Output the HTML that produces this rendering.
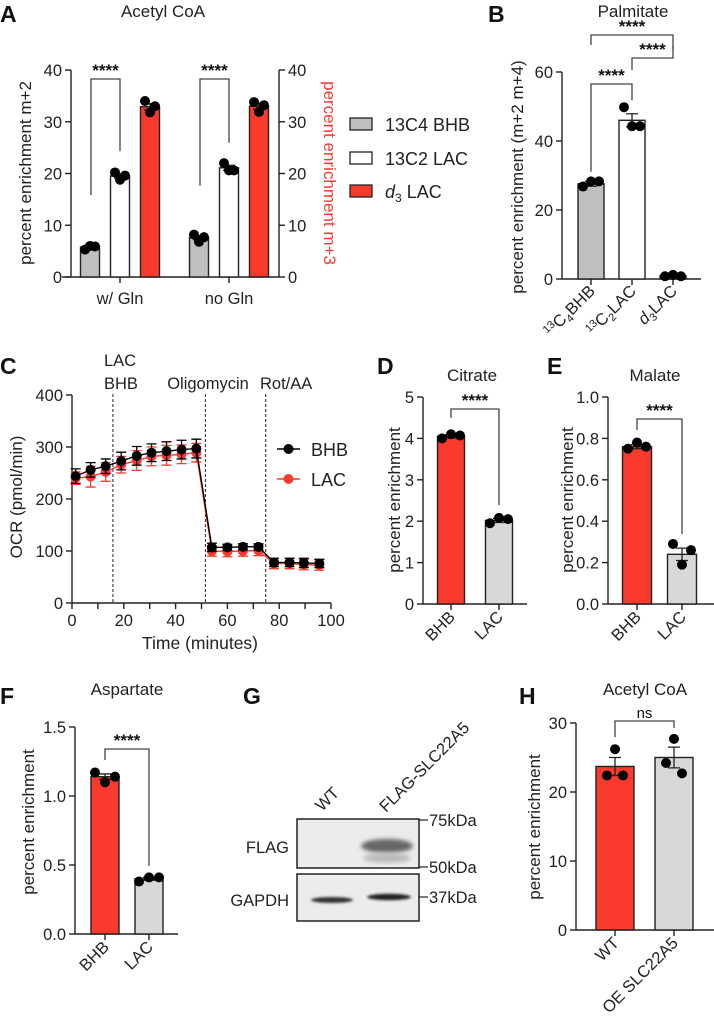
<!DOCTYPE html>
<html><head><meta charset="utf-8"><style>
html,body{margin:0;padding:0;background:#fff;}
svg{display:block;font-family:"Liberation Sans",Arial,sans-serif;}
</style></head><body>
<svg id="fig" width="714" height="1022" viewBox="0 0 714 1022" xmlns="http://www.w3.org/2000/svg">
<defs><filter id="blur" x="-20%" y="-50%" width="140%" height="200%"><feGaussianBlur stdDeviation="2.2"/></filter>
<filter id="blur2" x="-20%" y="-50%" width="140%" height="200%"><feGaussianBlur stdDeviation="1.2"/></filter></defs>
<g font-weight="bold" font-size="23" fill="#111">
<text x="0" y="22">A</text>
<text x="488" y="22">B</text>
<text x="0" y="374">C</text>
<text x="377" y="374">D</text>
<text x="547" y="374">E</text>
<text x="0" y="704">F</text>
<text x="243" y="704">G</text>
<text x="519" y="704">H</text>
</g>
<g id="blot">
<rect x="297" y="819" width="122" height="49" fill="#ececec" stroke="#222" stroke-width="1.5"/>
<ellipse cx="387" cy="846" rx="26" ry="7" fill="#666" filter="url(#blur)"/>
<ellipse cx="387" cy="858" rx="24" ry="5" fill="#bbb" filter="url(#blur)"/>
<rect x="297" y="874" width="122" height="47" fill="#ececec" stroke="#222" stroke-width="1.5"/>
<ellipse cx="332" cy="900" rx="21" ry="3" fill="#333" filter="url(#blur2)"/>
<ellipse cx="389" cy="897" rx="22" ry="3.2" fill="#222" filter="url(#blur2)"/>
<g stroke="#222" stroke-width="1.2"><line x1="419" y1="820" x2="428" y2="820"/><line x1="419" y1="867" x2="428" y2="867"/><line x1="419" y1="897" x2="428" y2="897"/></g>
<g font-size="16.5" fill="#222">
<text x="429" y="826">75kDa</text>
<text x="429" y="873">50kDa</text>
<text x="429" y="903">37kDa</text>
<text x="289" y="853" text-anchor="end">FLAG</text>
<text x="289" y="906" text-anchor="end">GAPDH</text>
<text transform="translate(322,812) rotate(-45)">WT</text>
<text transform="translate(386,813) rotate(-45)">FLAG-SLC22A5</text>
</g>
</g>
</svg>
<script>
// ---------- data ----------
const aCategories = ["w/ Gln", "no Gln"];
const aSeries = ["13C4 BHB", "13C2 LAC", "d3 LAC"];
const aWithGlnPoints = [[5.3, 6.0, 5.9], [20.2, 18.8, 19.6], [34.0, 31.8, 33.0]];
const aNoGlnPoints = [[8.2, 6.8, 7.7], [22.0, 20.6, 20.6], [33.8, 31.9, 33.2]];
const aMeans = [[5.8, 19.5, 32.9], [7.6, 21.1, 33.0]];
const aSem = [[0.3, 0.4, 0.6], [0.4, 0.5, 0.6]];
const aTicks = [0, 10, 20, 30, 40];

const bCategories = ["13C4BHB", "13C2LAC", "d3LAC"];
const bMeans = [27.6, 46.0, 0.9];
const bSem = [0.7, 1.9, 0.15];
const bPoints = [[26.8, 28.3, 28.3], [49.8, 44.3, 44.3], [0.8, 1.2, 0.8]];
const bTicks = [0, 20, 40, 60];

const cTimes = [1.4, 7.2, 13, 19, 25, 30.7, 36.5, 42.3, 48, 54, 60, 66, 72, 78, 84, 89.5, 95.5];
const cBHB = [244, 256, 263, 273, 283, 289, 292, 295, 297, 107, 107, 108, 108, 78, 78, 77, 76];
const cBHBErr = [14, 14, 14, 17, 18, 17, 18, 18, 18, 8, 6, 6, 6, 8, 8, 9, 8];
const cLAC = [240, 243, 252, 266, 274, 282, 284, 286, 289, 100, 99, 100, 101, 76, 76, 74, 73];
const cLACErr = [12, 20, 18, 16, 19, 18, 19, 18, 18, 10, 10, 10, 10, 10, 10, 10, 10];
const cInjections = [15.8, 51.5, 74.8];
const cYTicks = [0, 100, 200, 300, 400];
const cXTicks = [0, 20, 40, 60, 80, 100];

const dCategories = ["BHB", "LAC"];
const dMeans = [4.05, 2.02];
const dSem = [0.04, 0.05];
const dPoints = [[4.0, 4.1, 4.07], [1.95, 2.08, 2.05]];
const dTicks = [0, 1, 2, 3, 4, 5];

const eCategories = ["BHB", "LAC"];
const eMeans = [0.76, 0.24];
const eSem = [0.01, 0.03];
const ePoints = [[0.75, 0.78, 0.76], [0.29, 0.19, 0.26]];
const eTicks = [0.0, 0.2, 0.4, 0.6, 0.8, 1.0];

const fCategories = ["BHB", "LAC"];
const fMeans = [1.14, 0.40];
const fSem = [0.02, 0.01];
const fPoints = [[1.17, 1.10, 1.14], [0.38, 0.41, 0.41]];
const fTicks = [0.0, 0.5, 1.0, 1.5];

const hCategories = ["WT", "OE SLC22A5"];
const hMeans = [23.7, 25.0];
const hSem = [1.3, 1.5];
const hPoints = [[26.2, 22.4, 22.4], [27.7, 24.2, 22.7]];
const hTicks = [0, 10, 20, 30];

// ---------- helpers ----------
const NS = "http://www.w3.org/2000/svg";
const svg = document.getElementById("fig");
function mk(tag, attrs, parent) {
  const e = document.createElementNS(NS, tag);
  for (const k in attrs) e.setAttribute(k, attrs[k]);
  (parent || svg).appendChild(e);
  return e;
}
const RED = "#fb3a2e", GRAY = "#bfbfbf", LGRAY = "#d8d8d8", AX = "#222";
const TICKFS = 16.5, TITLEFS = 17, YTFS = 17;
function scaleY(v, vmax, yTop, yBot) { return yBot - (v / vmax) * (yBot - yTop); }

function drawYAxis(g, x, yTop, yBot, vmax, ticks, fmt, side) {
  const ax = mk("line", {x1: x, y1: yTop, x2: x, y2: yBot, stroke: AX, "stroke-width": 1.4}, g);
  
  
  ticks.forEach(t => {
    const y = scaleY(t, vmax, yTop, yBot);
    const dir = side === "right" ? 1 : -1;
    mk("line", {x1: x, y1: y, x2: x + dir * 6, y2: y, stroke: AX, "stroke-width": 1.4}, g);
    const tx = mk("text", {x: x + dir * 9, y: y + 6, "font-size": TICKFS, fill: AX, "text-anchor": side === "right" ? "start" : "end"}, g);
    tx.textContent = fmt(t);
    
    
  });
}
function yTitle(g, x, y, text, color, rot) {
  const t = mk("text", {transform: `translate(${x},${y}) rotate(${rot || -90})`, "text-anchor": "middle", "font-size": YTFS, fill: color || AX}, g);
  t.textContent = text;
  
  
  return t;
}
function title(x, y, text, name) {
  const t = mk("text", {x: x, y: y, "text-anchor": "middle", "font-size": TITLEFS, fill: AX});
  t.textContent = text;
  
  
}
function bar(g, cx, w, v, sem, pts, vmax, yTop, yBot, fill, offs) {
  const y = scaleY(v, vmax, yTop, yBot);
  const r = mk("rect", {x: cx - w / 2, y: y, width: w, height: yBot - y, fill: fill, stroke: AX, "stroke-width": 1.4}, g);
  
  
  const yh = scaleY(v + sem, vmax, yTop, yBot), yl = scaleY(v - sem, vmax, yTop, yBot);
  const eb = mk("path", {d: `M${cx} ${yh}V${yl}M${cx - 6} ${yh}H${cx + 6}M${cx - 6} ${yl}H${cx + 6}`, stroke: AX, "stroke-width": 1.3, fill: "none"}, g);
  
  
  pts.forEach((p, i) => {
    const c = mk("circle", {cx: cx + offs[i], cy: scaleY(p, vmax, yTop, yBot), r: 5, fill: "#000"}, g);
    
    
  });
}
function bracket(g, x1, x2, y, y1, y2, label, fs) {
  const p = mk("path", {d: `M${x1} ${y1}V${y}H${x2}V${y2}`, stroke: "#444", "stroke-width": 1.3, fill: "none"}, g);
  
  
  const t = mk("text", {x: (x1 + x2) / 2, y: y - 3, "text-anchor": "middle", "font-size": fs || 17, "font-weight": label === "ns" ? "normal" : "bold", fill: "#111"}, g);
  t.textContent = label;
  
  
}
function rotLabel(g, x, y, text) {
  const t = mk("text", {transform: `translate(${x},${y}) rotate(-45)`, "text-anchor": "end", "font-size": 16.5, fill: AX}, g);
  t.textContent = text;
  
  
  return t;
}
function xAxis(g, x1, x2, y, ticks) {
  const l = mk("line", {x1: x1, y1: y, x2: x2, y2: y, stroke: AX, "stroke-width": 1.4}, g);
  
  
  ticks.forEach(t => mk("line", {x1: t, y1: y, x2: t, y2: y + 6, stroke: AX, "stroke-width": 1.4}, g));
}

// ---------- Panel A ----------
(function () {
  const g = mk("g", {});
  
  
  title(163, 17, "Acetyl CoA", "panel-a-title");
  const yTop = 70, yBot = 277, vmax = 40;
  drawYAxis(g, 71, yTop, yBot, vmax, aTicks, String, "left");
  drawYAxis(g, 279, yTop, yBot, vmax, aTicks, String, "right");
  yTitle(g, 31, 173, "percent enrichment m+2");
  yTitle(g, 324, 173, "percent enrichment m+3", RED, 90);
  const groupCenters = [120, 229];
  xAxis(g, 62, 279, yBot, groupCenters);
  const fills = [GRAY, "#fff", RED];
  const allPts = [aWithGlnPoints, aNoGlnPoints];
  groupCenters.forEach((gc, gi) => {
    [-30, 0, 30].forEach((off, si) => {
      bar(g, gc + off, 19, aMeans[gi][si], aSem[gi][si], allPts[gi][si], vmax, yTop, yBot, fills[si], [-5, 0, 5]);
    });
    const t = mk("text", {x: gc, y: 304, "text-anchor": "middle", "font-size": TICKFS, fill: AX}, g);
    t.textContent = aCategories[gi];
    
    
    bracket(g, gc - 29, gc, 79, scaleY(aMeans[gi][0], vmax, yTop, yBot) - 52, scaleY(aMeans[gi][1], vmax, yTop, yBot) - 25, "****");
  });
  const lg = mk("g", {});
  
  
  const ly = [124, 158, 191];
  aSeries.forEach((s, i) => {
    const r = mk("rect", {x: 350, y: ly[i] - 6, width: 22, height: 12, fill: fills[i], stroke: AX, "stroke-width": 1.3}, lg);
    
    
    const t = mk("text", {x: 385, y: ly[i] + 7, "font-size": 18, fill: AX}, lg);
    
    
    if (s === "d3 LAC") {
      t.innerHTML = '<tspan font-style="italic">d</tspan><tspan font-size="12" dy="4">3</tspan><tspan dy="-4"> LAC</tspan>';
    } else t.textContent = s;
  });
})();

// ---------- Panel B ----------
(function () {
  const g = mk("g", {});
  
  
  title(633, 17, "Palmitate", "panel-b-title");
  const yTop = 72, yBot = 279, vmax = 60;
  drawYAxis(g, 562, yTop, yBot, vmax, bTicks, String, "left");
  yTitle(g, 523, 177, "percent enrichment (m+2 m+4)");
  const cx = [591, 632, 673];
  xAxis(g, 562, 701, yBot, cx);
  const fills = [GRAY, "#fff", RED];
  cx.forEach((x, i) => bar(g, x, 26, bMeans[i], bSem[i], bPoints[i], vmax, yTop, yBot, fills[i], [-8, 0, 8]));
  const tops = bMeans.map(v => scaleY(v, vmax, yTop, yBot));
  bracket(g, 591, 632, 84, tops[0] - 12, tops[1] - 20, "****");
  bracket(g, 632, 673, 58, 70, tops[2] - 230, "****");
  bracket(g, 591, 673, 35, 45, 49, "****");
  const labs = [["13", "C", "4", "BHB"], ["13", "C", "2", "LAC"], [null, "d", "3", "LAC"]];
  cx.forEach((x, i) => {
    const t = rotLabel(g, x + 5, 292, "");
    const L = labs[i];
    if (L[0]) t.innerHTML = `<tspan font-size="11" dy="-5">${L[0]}</tspan><tspan dy="5">${L[1]}</tspan><tspan font-size="11" dy="4">${L[2]}</tspan><tspan dy="-4">${L[3]}</tspan>`;
    else t.innerHTML = `<tspan font-style="italic">${L[1]}</tspan><tspan font-size="11" dy="4">${L[2]}</tspan><tspan dy="-4">${L[3]}</tspan>`;
  });
})();

// ---------- Panel C ----------
(function () {
  const g = mk("g", {});
  
  
  const x0 = 72, x1 = 331, yTop = 395, yBot = 603, ymax = 400, xmax = 100;
  const sx = t => x0 + (t / xmax) * (x1 - x0);
  const sy = v => scaleY(v, ymax, yTop, yBot);
  drawYAxis(g, x0, yTop, yBot, ymax, cYTicks, String, "left");
  yTitle(g, 22, 497, "OCR (pmol/min)");
  xAxis(g, x0, x1, yBot, cXTicks.map(sx).concat([10, 30, 50, 70, 90].map(sx)));
  cXTicks.forEach(t => {
    const tx = mk("text", {x: sx(t), y: 626, "text-anchor": "middle", "font-size": TICKFS, fill: AX}, g);
    tx.textContent = String(t);
    
    
  });
  const xt = mk("text", {x: 200, y: 649, "text-anchor": "middle", "font-size": 17.5, fill: AX}, g);
  xt.textContent = "Time (minutes)";
  
  
  cInjections.forEach(t => {
    const l = mk("line", {x1: sx(t), y1: 394, x2: sx(t), y2: yBot, stroke: "#222", "stroke-width": 1, "stroke-dasharray": "3,2"}, g);
    
    
  });
  const inj = [["LAC", 104, 366, "start"], ["BHB", 104, 389, "start"], ["Oligomycin", 208, 389, "middle"], ["Rot/AA", 260, 389, "start"]];
  inj.forEach(a => {
    const t = mk("text", {x: a[1], y: a[2], "font-size": 16.5, fill: AX, "text-anchor": a[3]}, g);
    t.textContent = a[0];
    
    
  });
  function series(vals, errs, color, name) {
    const sg = mk("g", {}, g);
    
    
    let d = "";
    vals.forEach((v, i) => {
      const x = sx(cTimes[i]), yh = sy(v + errs[i]), yl = sy(v - errs[i]);
      mk("path", {d: `M${x} ${yh}V${yl}M${x - 5} ${yh}H${x + 5}M${x - 5} ${yl}H${x + 5}`, stroke: color, "stroke-width": 1.3, fill: "none"}, sg);
      d += (i ? "L" : "M") + x + " " + sy(v);
    });
    mk("path", {d: d, stroke: color, "stroke-width": 1.4, fill: "none"}, sg);
    vals.forEach((v, i) => {
      const c = mk("circle", {cx: sx(cTimes[i]), cy: sy(v), r: 5, fill: color}, sg);
      
      
    });
  }
  series(cLAC, cLACErr, RED, "series-lac");
  series(cBHB, cBHBErr, "#000", "series-bhb");
  const lg = mk("g", {}, g);
  
  
  [["BHB", "#000", 449], ["LAC", RED, 479]].forEach(a => {
    mk("line", {x1: 277, y1: a[2], x2: 300, y2: a[2], stroke: a[1], "stroke-width": 1.4}, lg);
    mk("circle", {cx: 288.5, cy: a[2], r: 5, fill: a[1]}, lg);
    const t = mk("text", {x: 311, y: a[2] + 7, "font-size": 18, fill: AX}, lg);
    t.textContent = a[0];
    
    
  });
})();

// ---------- Two-bar panels ----------
function twoBar(opts) {
  const g = mk("g", {});
  
  
  title(opts.titleX, opts.titleY, opts.title, opts.name + "-title");
  drawYAxis(g, opts.ax, opts.yTop, opts.yBot, opts.vmax, opts.ticks, opts.fmt, "left");
  yTitle(g, opts.ylx, opts.yly, "percent enrichment");
  xAxis(g, opts.ax, opts.axEnd, opts.yBot, opts.cx);
  const fills = [RED, LGRAY];
  opts.cx.forEach((x, i) => bar(g, x, opts.w, opts.means[i], opts.sem[i], opts.points[i], opts.vmax, opts.yTop, opts.yBot, fills[i], opts.offs));
  bracket(g, opts.cx[0], opts.cx[1], opts.brY, opts.brY + opts.leg1, opts.brY + opts.leg2, opts.sig, opts.sig === "ns" ? 15 : 17);
  opts.cats.forEach((c, i) => rotLabel(g, opts.cx[i] + 5, opts.yBot + 14, c));
}
const fmt1 = v => v.toFixed(1);
twoBar({name: "panel-d-citrate-chart", title: "Citrate", titleX: 472, titleY: 381, ax: 423, axEnd: 527, yTop: 397, yBot: 604, vmax: 5, ticks: dTicks, fmt: String, ylx: 400, yly: 500, cx: [451, 499], w: 27, means: dMeans, sem: dSem, points: dPoints, cats: dCategories, offs: [-9, 0, 9], brY: 409, leg1: 9, leg2: 96, sig: "****"});
twoBar({name: "panel-e-malate-chart", title: "Malate", titleX: 655, titleY: 381, ax: 608, axEnd: 714, yTop: 397, yBot: 604, vmax: 1, ticks: eTicks, fmt: fmt1, ylx: 573, yly: 500, cx: [637, 682], w: 29, means: eMeans, sem: eSem, points: ePoints, cats: eCategories, offs: [-9, 0, 9], brY: 419, leg1: 11, leg2: 115, sig: "****"});
twoBar({name: "panel-f-aspartate-chart", title: "Aspartate", titleX: 127, titleY: 695, ax: 75, axEnd: 178, yTop: 727, yBot: 934, vmax: 1.5, ticks: fTicks, fmt: fmt1, ylx: 34, yly: 822, cx: [105, 149], w: 28, means: fMeans, sem: fSem, points: fPoints, cats: fCategories, offs: [-10, 0, 10], brY: 749, leg1: 11, leg2: 117, sig: "****"});
twoBar({name: "panel-h-acetyl-coa-chart", title: "Acetyl CoA", titleX: 645, titleY: 695, ax: 576, axEnd: 714, yTop: 723, yBot: 930, vmax: 30, ticks: hTicks, fmt: String, ylx: 540, yly: 827, cx: [615, 674], w: 38, means: hMeans, sem: hSem, points: hPoints, cats: hCategories, offs: [0, -8, 8], brY: 721, leg1: 16, leg2: 7, sig: "ns"});
</script>
</body></html>
